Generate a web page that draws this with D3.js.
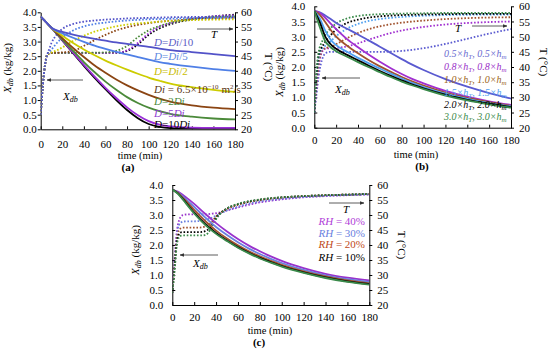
<!DOCTYPE html>
<html><head><meta charset="utf-8">
<script src="https://cdn.jsdelivr.net/npm/d3@7"></script>
<style>
body{margin:0;background:#fff}
svg{display:block}
text{font-family:"Liberation Serif","Times New Roman",serif;}
</style>
</head><body>
<svg id="chart" width="550" height="350"></svg>
<script>
// ---------- shared ticks ----------
const timeTicks = [0,20,40,60,80,100,120,140,160,180];
const xdbTicks = [0,0.5,1,1.5,2,2.5,3,3.5,4];
const tempTicks = [20,25,30,35,40,45,50,55,60];

// ---------- panel (a): diffusivity ----------
const tA = [0,5,10,15,20,30,40,50,60,70,80,90,100,110,120,140,160,180];
const xdbA_Di10 = [3.85,3.66,3.47,3.38,3.33,3.24,3.16,3.09,3.03,2.97,2.92,2.87,2.82,2.76,2.71,2.64,2.57,2.5];
const xdbA_Di5  = [3.85,3.66,3.47,3.36,3.28,3.13,2.99,2.86,2.75,2.65,2.56,2.47,2.38,2.3,2.24,2.14,2.06,2.0];
const xdbA_Di2  = [3.85,3.66,3.47,3.33,3.2,2.95,2.73,2.53,2.35,2.19,2.04,1.9,1.77,1.66,1.56,1.44,1.35,1.28];
const xdbA_Di   = [3.85,3.66,3.47,3.3,3.12,2.78,2.47,2.18,1.93,1.7,1.5,1.33,1.18,1.05,0.95,0.82,0.74,0.69];
const xdbA_2Di  = [3.85,3.66,3.47,3.28,3.07,2.68,2.3,1.95,1.63,1.35,1.1,0.9,0.74,0.62,0.53,0.43,0.37,0.34];
const xdbA_5Di  = [3.85,3.66,3.47,3.27,3.05,2.62,2.2,1.8,1.42,1.07,0.75,0.48,0.28,0.16,0.1,0.06,0.05,0.05];
const xdbA_10Di = [3.85,3.66,3.47,3.26,3.04,2.6,2.17,1.76,1.37,1.0,0.66,0.38,0.18,0.08,0.04,0.03,0.02,0.02];
const tA_T = [0,2,4,6,8,10,15,20,30,40,50,60,70,80,90,100,110,120,140,160,180];
const tempA_Di10 = [25,35,42,45.5,47.5,49.5,52.5,54.3,56,56.8,57.2,57.5,57.7,57.9,58,58.1,58.2,58.3,58.4,58.5,58.6];
const tempA_Di5  = [25,35,42,45.5,46.5,47.3,49.5,51.3,53.8,55.2,56,56.5,56.9,57.2,57.4,57.6,57.7,57.8,58,58.1,58.2];
const tempA_Di2  = [25,35,42,45.5,46,46.3,47,48,50.2,52,53.4,54.4,55.2,55.8,56.2,56.5,56.8,57,57.3,57.5,57.6];
const tempA_Di   = [25,35,42,45.5,46,46.1,46.2,46.3,46.8,48.5,50.5,52.3,53.8,54.9,55.7,56.3,56.8,57.1,57.6,57.9,58.1];
const tempA_2Di  = [25,35,42,45.5,46,46.1,46.1,46.1,46.1,46.2,46.2,46.3,46.8,48.5,51.5,53.8,55.3,56.4,57.7,58.3,58.6];
const tempA_5Di  = [25,35,42,45.5,46,46.1,46.1,46.1,46.1,46.1,46.1,46.1,46.2,47,49.5,52.8,55,56.3,57.8,58.6,59];
const tempA_10Di = [25,35,42,45.5,46,46.1,46.1,46.1,46.1,46.1,46.1,46.1,46.1,46.8,49,52.3,54.5,55.9,57.6,58.6,59.2];
const colorsA = ["#5252c8","#4f7fe6","#cccc00","#8b4513","#4b8a3a","#9a30d8","#000000"];
const labelColorsA = ["#5c5cc4","#5a86e0","#c8bc00","#5a3514","#4b8a3a","#8e3cd0","#000000"];

// ---------- panel (b): heat / mass transfer coefficients ----------
const tB = [0,5,10,15,20,30,40,50,60,70,80,90,100,120,140,160,180];
const xdbB_05 = [3.85,3.8,3.7,3.58,3.45,3.26,3.07,2.87,2.67,2.46,2.26,2.07,1.9,1.6,1.35,1.14,0.96];
const xdbB_08 = [3.85,3.78,3.62,3.43,3.25,2.92,2.65,2.4,2.17,1.96,1.77,1.6,1.46,1.21,1.02,0.87,0.75];
const xdbB_10 = [3.85,3.72,3.48,3.22,3.0,2.7,2.45,2.22,2.02,1.84,1.67,1.52,1.39,1.16,0.98,0.84,0.72];
const xdbB_15 = [3.85,3.6,3.2,2.9,2.72,2.5,2.3,2.12,1.95,1.78,1.62,1.47,1.34,1.12,0.95,0.81,0.7];
const xdbB_20 = [3.85,3.48,3.0,2.75,2.6,2.4,2.22,2.04,1.87,1.71,1.56,1.42,1.3,1.09,0.92,0.79,0.68];
const xdbB_30 = [3.85,3.32,2.85,2.65,2.52,2.34,2.16,1.99,1.83,1.67,1.52,1.39,1.27,1.06,0.9,0.77,0.66];
const tB_T = [0,2,4,6,8,10,15,20,30,40,50,60,80,100,120,140,160,180];
const tempB_05 = [25,31,37,41,43.3,44.5,45,45,45,45,45,45,45.3,46.2,47.6,49.3,51,52.5];
const tempB_08 = [25,33,40,44,45.5,46,46.2,46.3,46.8,47.8,49,50.2,52,53.2,54,54.5,54.8,55];
const tempB_10 = [25,34,41,44.5,45.8,46.2,46.6,47.5,49.5,51.2,52.5,53.4,54.6,55.3,55.8,56.1,56.3,56.4];
const tempB_15 = [25,36,43,45.5,46.3,47,48.5,50.2,52.6,54.2,55.2,55.8,56.5,56.9,57.1,57.2,57.3,57.3];
const tempB_20 = [25,37,44,46,47.2,48.3,50.5,52.3,54.5,55.6,56.3,56.7,57.1,57.3,57.4,57.5,57.5,57.5];
const tempB_30 = [25,39,45,47.5,49,50.5,52.8,54.3,56,56.8,57.2,57.4,57.6,57.7,57.8,57.8,57.8,57.8];
const factorsB = ["0.5","0.8","1.0","1.5","2.0","3.0"];
const colorsB = ["#5a5ad0","#a030d0","#a0522d","#4fa0f0","#000000","#3a8a4a"];
const labelColorsB = ["#6a6ad0","#9a30c8","#9b6420","#4fa0f0","#000000","#3a8a4a"];

// ---------- panel (c): relative humidity ----------
const tC = [0,5,10,15,20,30,40,50,60,70,80,90,100,120,140,160,180];
const xdbC_40 = [3.85,3.78,3.66,3.52,3.37,3.04,2.73,2.45,2.2,1.98,1.79,1.62,1.47,1.23,1.04,0.91,0.82];
const xdbC_30 = [3.85,3.76,3.61,3.44,3.27,2.92,2.6,2.33,2.09,1.88,1.7,1.54,1.4,1.17,0.99,0.86,0.77];
const xdbC_20 = [3.85,3.74,3.56,3.37,3.17,2.8,2.48,2.22,1.99,1.79,1.62,1.47,1.34,1.12,0.95,0.82,0.72];
const xdbC_10 = [3.85,3.72,3.52,3.3,3.08,2.7,2.4,2.15,1.93,1.74,1.57,1.43,1.3,1.09,0.92,0.79,0.7];
const xdbC_g  = [3.85,3.71,3.5,3.27,3.05,2.67,2.37,2.13,1.91,1.72,1.55,1.41,1.28,1.07,0.9,0.77,0.68];
const tC_T = [0,2,4,6,8,10,15,20,25,30,35,40,50,60,80,100,120,140,160,180];
const tempC_40 = [24,35,44,48,49.5,50,50.2,50.2,50.2,50.2,50.4,50.6,51.5,52.5,54.2,55.2,55.9,56.3,56.6,56.8];
const tempC_30 = [24,34,42.5,46.5,47.5,47.8,47.9,47.9,48,48.3,48.9,49.8,51.5,52.8,54.5,55.4,56,56.4,56.7,56.9];
const tempC_20 = [24,33,41.5,44.8,45.6,45.8,45.8,45.8,45.8,46.2,47.2,49.5,52,53.4,55,55.8,56.3,56.6,56.8,57];
const tempC_10 = [24,32,40.5,43.5,44.2,44.3,44.3,44.3,44.3,44.6,46,49,52.2,53.6,55.1,55.9,56.3,56.6,56.8,57];
const tempC_g  = [24,31,39.5,42.5,43.1,43.2,43.2,43.2,43.2,43.3,45.2,48.6,52.2,53.7,55.2,55.9,56.3,56.6,56.8,57];
const rhLabels = ["40%","30%","20%","10%",""];
const colorsC = ["#9932cc","#6a80e0","#a0522d","#000000","#3a8a4a"];
const labelColorsC = ["#b040d8","#6a80e0","#c04a20","#000000","#3a8a4a"];

// ---------- drawing ----------
const svg = d3.select("#chart");
const FONT = '"Liberation Serif","Times New Roman",serif';
const defs = svg.append("defs");
defs.append("marker").attr("id","ah").attr("viewBox","0 0 10 10").attr("refX",9).attr("refY",5)
  .attr("markerWidth",6).attr("markerHeight",6).attr("orient","auto-start-reverse")
  .append("path").attr("d","M0,1 L10,5 L0,9 Z").attr("fill","#333");

function styleAxis(sel){
  sel.attr("font-family",FONT).attr("font-size",11);
  sel.selectAll("text").attr("fill","#000");
  sel.selectAll("line").attr("stroke","#000");
  sel.select(".domain").attr("stroke","#000");
}

function panel(cfg){
  const g = svg.append("g");
  const x = d3.scaleLinear().domain([0,180]).range([cfg.x0,cfg.x1]);
  const y = d3.scaleLinear().domain([0,4]).range([cfg.yb,cfg.yt]);
  const y2 = d3.scaleLinear().domain([20,60]).range([cfg.yb,cfg.yt]);

  g.append("g").attr("transform",`translate(0,${cfg.yb})`)
    .call(d3.axisBottom(x).tickValues(timeTicks).tickSizeInner(-3).tickSizeOuter(0).tickPadding(cfg.xPad)).call(styleAxis);
  g.append("g").attr("transform",`translate(${cfg.x0},0)`)
    .call(d3.axisLeft(y).tickValues(xdbTicks).tickFormat(d3.format(".1f")).tickSizeInner(cfg.lTick).tickSizeOuter(0).tickPadding(cfg.lPad)).call(styleAxis);
  g.append("g").attr("transform",`translate(${cfg.x1},0)`)
    .call(d3.axisRight(y2).tickValues(tempTicks).tickSizeInner(3).tickSizeOuter(0).tickPadding(cfg.rPad)).call(styleAxis);

  const clip = "clip"+cfg.id;
  defs.append("clipPath").attr("id",clip).append("rect")
    .attr("x",cfg.x0).attr("y",cfg.yt-2).attr("width",cfg.x1-cfg.x0).attr("height",cfg.yb-cfg.yt+2);
  const plot = g.append("g").attr("clip-path",`url(#${clip})`);

  const order = cfg.reverse ? d3.range(cfg.xdbs.length).reverse() : d3.range(cfg.xdbs.length);
  order.forEach(i=>{
    plot.append("path").datum(cfg.temps[i])
      .attr("d", d3.line().x((d,j)=>x(cfg.tT[j])).y(d=>y2(d)).curve(d3.curveMonotoneX))
      .attr("fill","none").attr("stroke",cfg.colors[i]).attr("stroke-width",1.8)
      .attr("stroke-dasharray","1.6,1.8");
  });
  order.forEach(i=>{
    plot.append("path").datum(cfg.xdbs[i])
      .attr("d", d3.line().x((d,j)=>x(cfg.tX[j])).y(d=>y(d)).curve(d3.curveMonotoneX))
      .attr("fill","none").attr("stroke",cfg.colors[i]).attr("stroke-width",1.8);
  });

  // axis titles
  const yt = g.append("text").attr("font-family",FONT).attr("font-size",11).attr("text-anchor","middle")
    .attr("transform",`translate(${cfg.ytx},${cfg.yty}) rotate(-90)`);
  yt.append("tspan").attr("font-style","italic").text("X");
  yt.append("tspan").attr("font-style","italic").attr("font-size",8).attr("dy",2).text("db");
  yt.append("tspan").attr("dy",-2).text(" (kg/kg)");
  g.append("text").attr("font-family",FONT).attr("font-size",11).attr("text-anchor","middle")
    .attr("transform",`translate(${cfg.ttx},${cfg.tty}) rotate(90)`).text("T (°C)");
  g.append("text").attr("font-family",FONT).attr("font-size",10.5).attr("text-anchor","middle")
    .attr("x",cfg.timeX).attr("y",cfg.timeY).text("time (min)");
  g.append("text").attr("font-family",FONT).attr("font-size",11).attr("font-weight","bold").attr("text-anchor","middle")
    .attr("x",cfg.tagX).attr("y",cfg.tagY).text(cfg.tag);

  // arrows
  g.append("line").attr("x1",cfg.tArrow[0]).attr("x2",cfg.tArrow[1]).attr("y1",cfg.tArrow[2]).attr("y2",cfg.tArrow[2])
    .attr("stroke","#333").attr("stroke-width",0.8).attr("marker-end","url(#ah)");
  g.append("text").attr("font-family",FONT).attr("font-size",11).attr("font-style","italic")
    .attr("x",cfg.tLab[0]).attr("y",cfg.tLab[1]).text("T");
  g.append("line").attr("x1",cfg.xArrow[0]).attr("x2",cfg.xArrow[1]).attr("y1",cfg.xArrow[2]).attr("y2",cfg.xArrow[2])
    .attr("stroke","#333").attr("stroke-width",0.8).attr("marker-end","url(#ah)");
  const xl = g.append("text").attr("font-family",FONT).attr("font-size",11).attr("font-style","italic")
    .attr("x",cfg.xLab[0]).attr("y",cfg.xLab[1]);
  xl.append("tspan").text("X");
  xl.append("tspan").attr("font-size",8).attr("dy",2).text("db");
  return g;
}

// Panel a
const gA = panel({id:"a",x0:40.7,x1:235,yt:12.3,yb:129.3,xPad:11,lTick:3,lPad:1,rPad:3,reverse:true,
  tX:tA,tT:tA_T,
  xdbs:[xdbA_Di10,xdbA_Di5,xdbA_Di2,xdbA_Di,xdbA_2Di,xdbA_5Di,xdbA_10Di],
  temps:[tempA_Di10,tempA_Di5,tempA_Di2,tempA_Di,tempA_2Di,tempA_5Di,tempA_10Di],
  colors:colorsA,ytx:11,yty:68,ttx:265,tty:67,timeX:140,timeY:159,tagX:128,tagY:171,tag:"(a)",
  tArrow:[197,233,29],tLab:[211,38],xArrow:[83,47,80],xLab:[63,100]});

// labels a
const labA = [
  {y:46, parts:[["D","i"],["=",""],["Di","i"],["/10",""]]},
  {y:60, parts:[["D","i"],["=",""],["Di","i"],["/5",""]]},
  {y:75, parts:[["D","i"],["=",""],["Di","i"],["/2",""]]},
  {y:93, parts:[["Di","i"],[" = 6.5×10",""],["−10","sup"],[" m",""],["2","sup"],["/s",""]]},
  {y:105, parts:[["D","i"],["=2",""],["Di","i"]]},
  {y:117, parts:[["D","i"],["=5",""],["Di","i"]]},
  {y:128, parts:[["D","i"],["=10",""],["Di","i"]]}
];
labA.forEach((l,i)=>{
  const t = gA.append("text").attr("font-family",FONT).attr("font-size",11).attr("x",154).attr("y",l.y).attr("fill",labelColorsA[i]);
  let shifted = 0;
  l.parts.forEach(p=>{
    const ts = t.append("tspan").text(p[0]);
    if(p[1]==="i") ts.attr("font-style","italic");
    if(p[1]==="sup"){ ts.attr("font-size",7).attr("dy",-4-shifted); shifted=-4; }
    else if(shifted!==0){ ts.attr("dy",-shifted); shifted=0; }
  });
});

// Panel b
const gB = panel({id:"b",x0:314.3,x1:511,yt:6.3,yb:127.7,xPad:9,lTick:-3,lPad:9,rPad:5,
  tX:tB,tT:tB_T,
  xdbs:[xdbB_05,xdbB_08,xdbB_10,xdbB_15,xdbB_20,xdbB_30],
  temps:[tempB_05,tempB_08,tempB_10,tempB_15,tempB_20,tempB_30],
  colors:colorsB,ytx:283,yty:72,ttx:540,tty:62,timeX:416,timeY:158,tagX:422,tagY:170,tag:"(b)",
  tArrow:[472,507,26],tLab:[455,32],xArrow:[360,322,78],xLab:[335,93]});
const labBy = [56.5,70,83,96,108,120];
factorsB.forEach((f,i)=>{
  const t = gB.append("text").attr("font-family",FONT).attr("font-size",10).attr("font-style","italic")
    .attr("x",444).attr("y",labBy[i]).attr("fill",labelColorsB[i]);
  t.append("tspan").text(f+"×h");
  t.append("tspan").attr("font-size",7).attr("dy",2).text("T");
  t.append("tspan").attr("dy",-2).text(", "+f+"×h");
  t.append("tspan").attr("font-size",7).attr("dy",2).text("m");
});

// Panel c
const gC = panel({id:"c",x0:172.3,x1:369.3,yt:185,yb:305,xPad:8,lTick:-3,lPad:9,rPad:5,
  tX:tC,tT:tC_T,
  xdbs:[xdbC_40,xdbC_30,xdbC_20,xdbC_10,xdbC_g],
  temps:[tempC_40,tempC_30,tempC_20,tempC_10,tempC_g],
  colors:colorsC,ytx:139,yty:250,ttx:398,tty:245,timeX:270,timeY:334,tagX:259,tagY:346,tag:"(c)",
  tArrow:[329,364,203],tLab:[343,213],xArrow:[218,180,255],xLab:[193,267]});
const labCy = [225,236.5,248,260.5];
rhLabels.forEach((r,i)=>{
  if(!r) return;
  const t = gC.append("text").attr("font-family",FONT).attr("font-size",11).attr("text-anchor","end")
    .attr("x",365).attr("y",labCy[i]).attr("fill",labelColorsC[i]);
  t.append("tspan").attr("font-style","italic").text("RH");
  t.append("tspan").text(" = "+r);
});
</script>
</body></html>
